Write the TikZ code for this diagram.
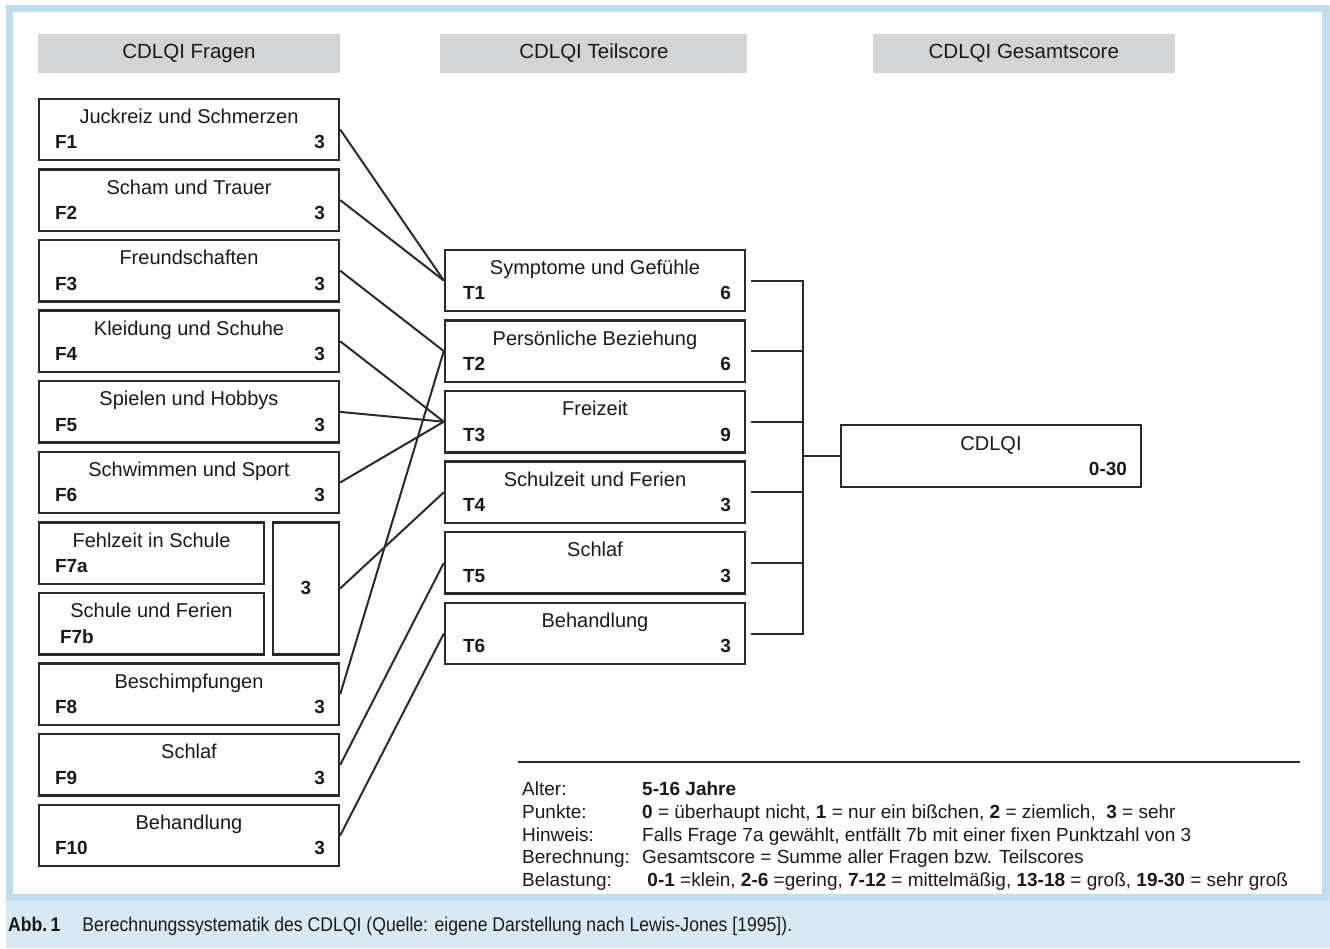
\documentclass[tikz,border=0pt]{standalone}
\usepackage{fontspec}
\setmainfont{Liberation Sans}
\newfontfamily\captionfont[FakeStretch=0.89]{Liberation Sans}
\usepackage{xcolor}
\usetikzlibrary{positioning}

\definecolor{framecol}{HTML}{BFDEF0}
\definecolor{bandcol}{HTML}{D9E9F3}
\definecolor{hdrgray}{HTML}{D3D4D6}
\definecolor{linegray}{HTML}{2A2A2A}
\definecolor{inkgray}{HTML}{1A1A1A}

\begin{document}
\begin{tikzpicture}[x=1pt, y=-1pt, node distance=6.7pt, every node/.style={text=inkgray}]
\tikzstyle{hdr} = [rectangle, fill=hdrgray, minimum width=302pt, minimum height=39pt, font=\fontsize{20.5}{22}\selectfont]
\tikzstyle{qbox} = [rectangle, draw=linegray, line width=2.4pt, minimum width=300pt, minimum height=61.5pt, inner sep=0pt]
\tikzstyle{sbox} = [qbox, minimum width=225pt]
\tikzstyle{ttl} = [anchor=base, inner sep=0pt, yshift=-26pt, font=\fontsize{20}{22}\selectfont]
\tikzstyle{num} = [anchor=base west, inner sep=0pt, xshift=17pt, yshift=12.5pt, font=\bfseries\fontsize{19}{22}\selectfont]
\tikzstyle{pts} = [anchor=base east, inner sep=0pt, xshift=-15pt, yshift=12.5pt, font=\bfseries\fontsize{19}{22}\selectfont]
\tikzstyle{link} = [draw=linegray, line width=2pt]
\tikzstyle{bus} = [link, line cap=rect]

\useasboundingbox (0,0) rectangle (1330,948);
\fill [bandcol] (6,5) rectangle (1330,948);
\filldraw [fill=white, draw=framecol, line width=7pt] (9.5,8.5) rectangle (1325.5,897);

\node (hfragen) [hdr] at (189,53.5) {CDLQI Fragen};
\node (hteil) [hdr, right=100pt of hfragen, minimum width=307pt] {CDLQI Teilscore};
\node (hgesamt) [hdr, right=125pt of hteil] {CDLQI Gesamtscore};

\node (f1) [qbox, label={[ttl]north:Juckreiz und Schmerzen}, label={[num]south west:F1}, label={[pts]south east:3}] at (189,129.5) {};
\node (f2) [qbox, below=of f1, label={[ttl]north:Scham und Trauer}, label={[num]south west:F2}, label={[pts]south east:3}] {};
\node (f3) [qbox, below=of f2, label={[ttl]north:Freundschaften}, label={[num]south west:F3}, label={[pts]south east:3}] {};
\node (f4) [qbox, below=of f3, label={[ttl]north:Kleidung und Schuhe}, label={[num]south west:F4}, label={[pts]south east:3}] {};
\node (f5) [qbox, below=of f4, label={[ttl]north:Spielen und Hobbys}, label={[num]south west:F5}, label={[pts]south east:3}] {};
\node (f6) [qbox, below=of f5, label={[ttl]north:Schwimmen und Sport}, label={[num]south west:F6}, label={[pts]south east:3}] {};
\node (f7a) [sbox, below right=6.7pt and 0pt of f6.south west, label={[ttl]north:Fehlzeit in Schule}, label={[num]south west:F7a}] {};
\node (f7b) [sbox, below=of f7a, label={[ttl]north:Schule und Ferien}, label={[num, xshift=5pt]south west:F7b}] {};
\node (f7) [qbox, minimum width=66pt, minimum height=132.1pt, below left=6.7pt and 0pt of f6.south east, font=\bfseries\fontsize{19}{22}\selectfont] {3};
\node (f8) [qbox, below right=6.7pt and 0pt of f7b.south west, label={[ttl]north:Beschimpfungen}, label={[num]south west:F8}, label={[pts]south east:3}] {};
\node (f9) [qbox, below=of f8, label={[ttl]north:Schlaf}, label={[num]south west:F9}, label={[pts]south east:3}] {};
\node (f10) [qbox, below=of f9, label={[ttl]north:Behandlung}, label={[num]south west:F10}, label={[pts]south east:3}] {};

\node (t1) [qbox, label={[ttl]north:Symptome und Gefühle}, label={[num, xshift=2pt]south west:T1}, label={[pts]south east:6}] at (595,280.5) {};
\node (t2) [qbox, below=of t1, label={[ttl]north:Persönliche Beziehung}, label={[num, xshift=2pt]south west:T2}, label={[pts]south east:6}] {};
\node (t3) [qbox, below=of t2, label={[ttl]north:Freizeit}, label={[num, xshift=2pt]south west:T3}, label={[pts]south east:9}] {};
\node (t4) [qbox, below=of t3, label={[ttl]north:Schulzeit und Ferien}, label={[num, xshift=2pt]south west:T4}, label={[pts]south east:3}] {};
\node (t5) [qbox, below=of t4, label={[ttl]north:Schlaf}, label={[num, xshift=2pt]south west:T5}, label={[pts]south east:3}] {};
\node (t6) [qbox, below=of t5, label={[ttl]north:Behandlung}, label={[num, xshift=2pt]south west:T6}, label={[pts]south east:3}] {};

\node (total) [qbox, label={[ttl]north:CDLQI}, label={[pts]south east:0-30}] at (991,456) {};

\draw [link] (f1.east) -- (t1.west);
\draw [link] (f2.east) -- (t1.west);
\draw [link] (f3.east) -- (t2.west);
\draw [link] (f8.east) -- (t2.west);
\draw [link] (f4.east) -- (t3.west);
\draw [link] (f5.east) -- (t3.west);
\draw [link] (f6.east) -- (t3.west);
\draw [link] (f7.east) -- (t4.west);
\draw [link] (f9.east) -- (t5.west);
\draw [link] (f10.east) -- (t6.west);

\coordinate (bar) at (803,280.5);
\draw [bus] ([xshift=6pt]t1.east) -- (t1.east -| bar);
\draw [bus] ([xshift=6pt]t2.east) -- (t2.east -| bar);
\draw [bus] ([xshift=6pt]t3.east) -- (t3.east -| bar);
\draw [bus] ([xshift=6pt]t4.east) -- (t4.east -| bar);
\draw [bus] ([xshift=6pt]t5.east) -- (t5.east -| bar);
\draw [bus] ([xshift=6pt]t6.east) -- (t6.east -| bar);
\draw [bus] (t1.east -| bar) -- (t6.east -| bar);
\draw [bus] (total.west -| bar) -- (total.west);

\draw [line width=2.2pt, draw=linegray] (518,762) -- (1300,762);
\node (legend) [anchor=base west, inner sep=0pt, font=\fontsize{19}{22.75}\selectfont] at (522,795.5) {%
\begin{tabular}[t]{@{}p{120pt}@{}l@{}}
Alter: & \textbf{5-16 Jahre}\\
Punkte: & \textbf{0} = überhaupt nicht, \textbf{1} = nur ein bißchen, \textbf{2} = ziemlich, \ \textbf{3} = sehr\\
Hinweis: & Falls Frage 7a gewählt, entfällt 7b mit einer fixen Punktzahl von 3\\
Berechnung: & Gesamtscore = Summe aller Fragen bzw. Teilscores\\
Belastung: & \ \textbf{0-1} =klein, \textbf{2-6} =gering, \textbf{7-12} = mittelmäßig, \textbf{13-18} = groß, \textbf{19-30} = sehr groß
\end{tabular}};

\node (caption) [anchor=base west, inner sep=0pt, font=\captionfont\fontsize{19.8}{22}\selectfont] at (8,931) {\textbf{Abb.\,1}\hspace{22pt}Berechnungssystematik des CDLQI (Quelle: eigene Darstellung nach Lewis-Jones [1995]).};
\end{tikzpicture}
\end{document}
